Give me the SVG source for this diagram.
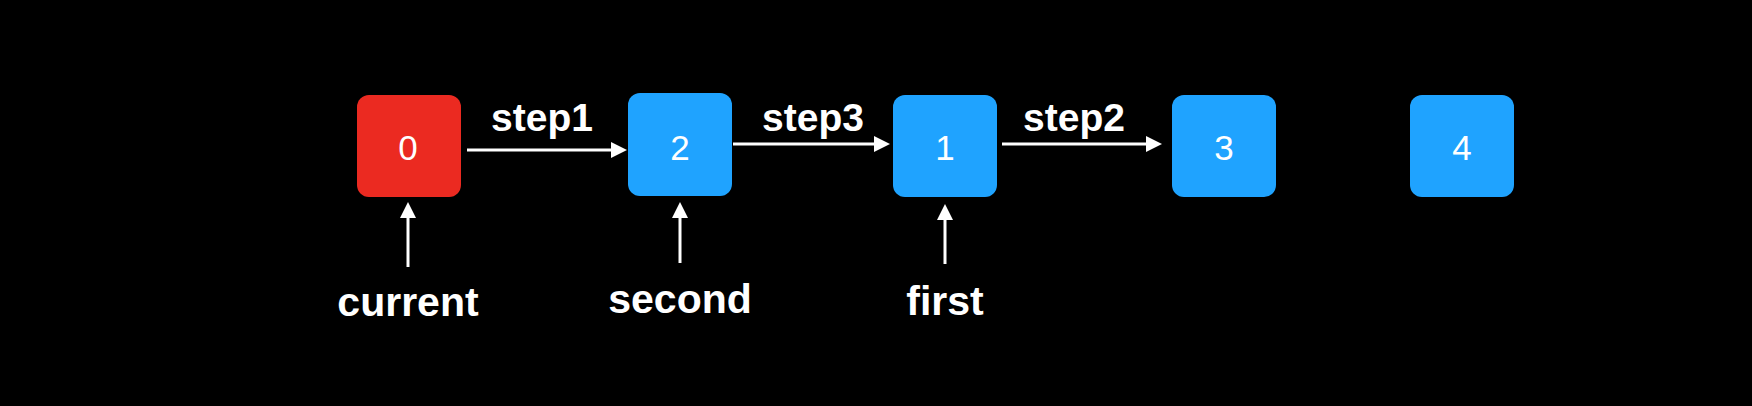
<svg xmlns="http://www.w3.org/2000/svg" width="1752" height="406" viewBox="0 0 1752 406">
  <style>
    .node-red { fill: #EB2A21; }
    .node-blue { fill: #1FA3FF; }
    .digit { font-family: "Liberation Sans", Arial, sans-serif; font-size: 35px; fill: #FFFFFF; text-anchor: middle; }
    .step { font-family: "Liberation Sans", Arial, sans-serif; font-size: 39px; font-weight: bold; fill: #FFFFFF; text-anchor: middle; }
    .ptr { font-family: "Liberation Sans", Arial, sans-serif; font-size: 41px; font-weight: bold; fill: #FFFFFF; text-anchor: middle; }
    .conn { stroke: #FFFFFF; stroke-width: 3; fill: none; marker-end: url(#arrow); }
  </style>
  <defs>
    <marker id="arrow" markerUnits="userSpaceOnUse" markerWidth="17" markerHeight="17" refX="0" refY="8" orient="auto">
      <path d="M0,0 L16,8 L0,16 Z" fill="#FFFFFF"/>
    </marker>
  </defs>
  <rect x="0" y="0" width="1752" height="406" fill="#000000"/>

  <g id="node-0">
    <rect class="node-red" x="357" y="95" width="104" height="102" rx="12" ry="12"/>
    <text class="digit" x="408" y="160">0</text>
  </g>
  <g id="node-2">
    <rect class="node-blue" x="628" y="93" width="104" height="103" rx="12" ry="12"/>
    <text class="digit" x="680" y="160">2</text>
  </g>
  <g id="node-1">
    <rect class="node-blue" x="893" y="95" width="104" height="102" rx="12" ry="12"/>
    <text class="digit" x="945" y="160">1</text>
  </g>
  <g id="node-3">
    <rect class="node-blue" x="1172" y="95" width="104" height="102" rx="12" ry="12"/>
    <text class="digit" x="1224" y="160">3</text>
  </g>
  <g id="node-4">
    <rect class="node-blue" x="1410" y="95" width="104" height="102" rx="12" ry="12"/>
    <text class="digit" x="1462" y="160">4</text>
  </g>

  <g id="label-current">
    <text class="ptr" x="408" y="316">current</text>
  </g>
  <g id="label-second">
    <text class="ptr" x="680" y="313">second</text>
  </g>
  <g id="label-first">
    <text class="ptr" x="945" y="315">first</text>
  </g>

  <g id="connectors">
    <line class="conn" x1="467" y1="150" x2="611" y2="150"/>
    <text class="step" x="542" y="131">step1</text>
    <line class="conn" x1="733" y1="144" x2="874" y2="144"/>
    <text class="step" x="813" y="131">step3</text>
    <line class="conn" x1="1002" y1="144" x2="1146" y2="144"/>
    <text class="step" x="1074" y="131">step2</text>
    <line class="conn" x1="408" y1="267" x2="408" y2="218"/>
    <line class="conn" x1="680" y1="263" x2="680" y2="218"/>
    <line class="conn" x1="945" y1="264" x2="945" y2="220"/>
  </g>
</svg>
